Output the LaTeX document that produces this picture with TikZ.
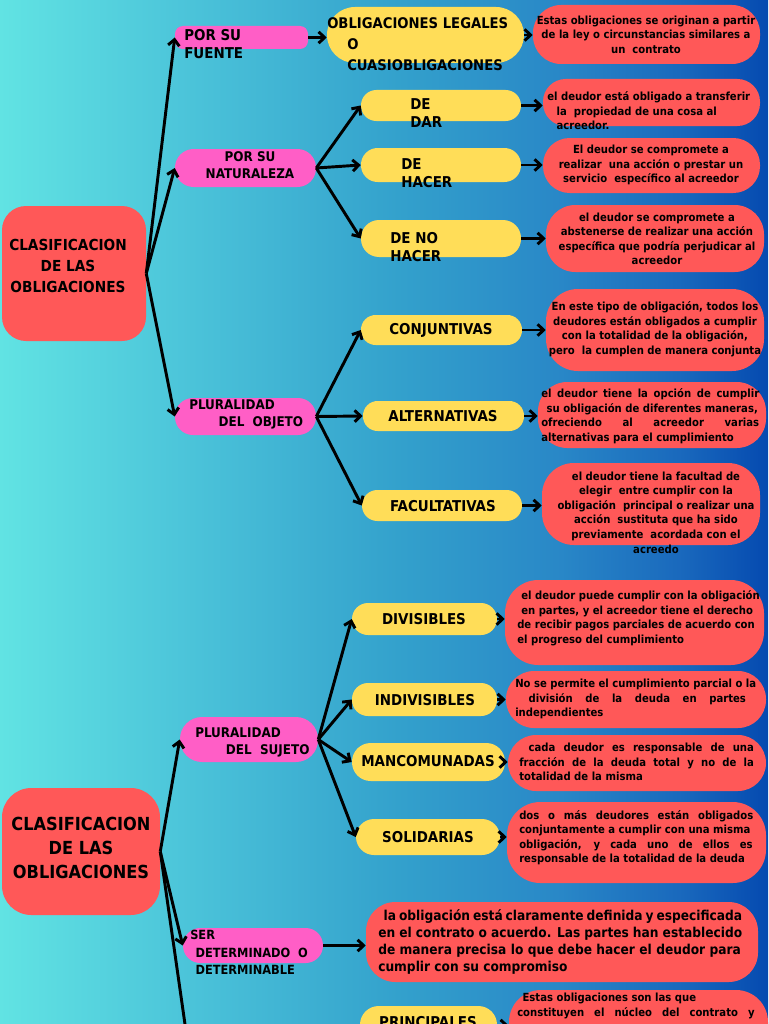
\documentclass[tikz,border=0pt]{standalone}
\usepackage{fontspec}
\setmainfont{DejaVu Sans Condensed}
\usetikzlibrary{arrows.meta,fit,calc}
\definecolor{rojo}{RGB}{255,88,88}
\definecolor{rosa}{RGB}{255,94,198}
\definecolor{amarillo}{RGB}{255,221,88}
\pgfdeclarehorizontalshading{fondo}{100bp}{rgb(0bp)=(0.38,0.89,0.89); rgb(25bp)=(0.38,0.89,0.89); rgb(38bp)=(0.29,0.76,0.85); rgb(51bp)=(0.20,0.63,0.80); rgb(61.5bp)=(0.16,0.53,0.78); rgb(69.3bp)=(0.10,0.41,0.74); rgb(75bp)=(0.02,0.29,0.69); rgb(100bp)=(0.02,0.29,0.69)}

\begin{document}
\begin{tikzpicture}[x=0.75pt,y=-0.75pt,
  roja/.style={fill=rojo,inner sep=0pt,rounded corners=#1},
  rosada/.style={fill=rosa,inner sep=0pt,rounded corners=#1},
  amarilla/.style={fill=amarillo,inner sep=0pt,rounded corners=#1},
  flecha/.style={line width=2.2pt,-{Straight Barb[length=4.5pt,width=8.5pt]}},
  tnota/.style={inner sep=0pt,align=center,font=\bfseries\fontsize{8.4}{10.9}\selectfont},
  tetiq/.style={inner sep=0pt,align=left,font=\bfseries\fontsize{11.2}{13.5}\selectfont},
  trosa/.style={inner sep=0pt,align=left,font=\bfseries\fontsize{10}{12.75}\selectfont}]
\useasboundingbox (0,0) rectangle (768,1024);
\clip (0,0) rectangle (768,1024);
\fill[shading=fondo] (0,0) rectangle (768,1024);

% primer mapa
\node[roja=18pt,fit={(2,206) (146,341)}] (raiz1) {};
\node[inner sep=0pt,align=center,font=\bfseries\fontsize{11.4}{15.75}\selectfont] (raiz1t) at (68,266) {CLASIFICACION\\DE LAS\\OBLIGACIONES};

\node[rosada=6pt,fit={(175,26) (308,49)}] (fuente) {};
\node[tetiq,anchor=west,font=\bfseries\fontsize{11.2}{13.5}\selectfont] (fuentet) at (184,44) {POR SU\\FUENTE};
\node[amarilla=21pt,fit={(327,7) (524,63)}] (legales) {};
\node[tetiq,anchor=west,font=\bfseries\fontsize{11}{15.75}\selectfont] (legalest) at (327,44) {OBLIGACIONES LEGALES\\\hspace*{15pt}O\\\hspace*{15pt}CUASIOBLIGACIONES};
\node[roja=21pt,fit={(533,5) (760,64)}] (nota1) {};
\node[tnota] (nota1t) at (646,34.5) {Estas obligaciones se originan a partir\\de la ley o circunstancias similares a\\un\ \ contrato};

\node[rosada=14pt,fit={(175,149) (316,187)}] (natural) {};
\node[trosa,align=center] (naturalt) at (250,165.5) {POR SU\\NATURALEZA};

\node[amarilla=11.5pt,fit={(361,90) (521,121)}] (dar) {};
\node[tetiq,anchor=west] (dart) at (410,113) {DE\\DAR};
\node[roja=17pt,fit={(543,79) (760,126)}] (nota2) {};
\node[tnota,align=left,anchor=west] (nota2t) at (547,111) {el deudor está obligado a transferir\\\hspace*{7pt}la\ \ propiedad de una cosa al\\\hspace*{7pt}acreedor.};

\node[amarilla=12.5pt,fit={(361,148) (521,182)}] (hacer) {};
\node[tetiq,anchor=west] (hacert) at (401,173.5) {DE\\HACER};
\node[roja=20pt,fit={(543,138) (760,193)}] (nota3) {};
\node[tnota] (nota3t) at (651,165) {El deudor se compromete a\\realizar\ \ una acción o prestar un\\servicio\ \ específico al acreedor};

\node[amarilla=13.5pt,fit={(361,220) (521,257)}] (nohacer) {};
\node[tetiq,anchor=west] (nohacert) at (390,247) {DE NO\\HACER};
\node[roja=22pt,fit={(546,205) (764,272)}] (nota4) {};
\node[tnota] (nota4t) at (657,239) {el deudor se compromete a\\abstenerse de realizar una acción\\específica que podría perjudicar al\\acreedor};

\node[rosada=13.5pt,fit={(175,398) (316,435)}] (objeto) {};
\node[trosa,anchor=west] (objetot) at (189,414.5) {PLURALIDAD\\\hspace*{22pt}DEL\ \ OBJETO};

\node[amarilla=11pt,fit={(361,315) (522,345)}] (conj) {};
\node[tetiq] (conjt) at (441,330) {CONJUNTIVAS};
\node[roja=24pt,fit={(546,289) (764,371)}] (nota5) {};
\node[tnota] (nota5t) at (655,329) {En este tipo de obligación, todos los\\deudores están obligados a cumplir\\con la totalidad de la obligación,\\pero\ \ la cumplen de manera conjunta};

\node[amarilla=11pt,fit={(363,401) (524,431)}] (alter) {};
\node[tetiq] (altert) at (443,416) {ALTERNATIVAS};
\node[roja=22pt,fit={(538,382) (766,448)}] (nota6) {};
\node[tnota,align=left,anchor=west] (nota6t) at (541,416) {\makebox[163.5pt][s]{el deudor tiene la opción de cumplir}\\\hspace*{4pt}su obligación de diferentes maneras,\\\makebox[163.5pt][s]{ofreciendo al acreedor varias}\\alternativas para el cumplimiento};

\node[amarilla=11.5pt,fit={(362,490) (522,521)}] (facul) {};
\node[tetiq] (facult) at (443,506) {FACULTATIVAS};
\node[roja=24pt,fit={(542,463) (760,545)}] (nota7) {};
\node[tnota] (nota7t) at (656,512.5) {el deudor tiene la facultad de\\elegir\ \ entre cumplir con la\\obligación\ \ principal o realizar una\\acción\ \ sustituta que ha sido\\previamente\ \ acordada con el\\acreedo};

\draw[flecha] (raiz1.east) -- (fuente.west);
\draw[flecha] (raiz1.east) -- (natural.west);
\draw[flecha] (raiz1.east) -- (objeto.west);
\draw[flecha] (fuente.east) -- (fuente.east -| legales.west);
\draw[flecha] (legales.east) -- (legales.east -| nota1.west);
\draw[flecha] (natural.east) -- (dar.west);
\draw[flecha] (natural.east) -- (hacer.west);
\draw[flecha] (natural.east) -- (nohacer.west);
\draw[flecha] (dar.east) -- (dar.east -| nota2.west);
\draw[flecha] (hacer.east) -- (hacer.east -| nota3.west);
\draw[flecha] (nohacer.east) -- (nohacer.east -| nota4.west);
\draw[flecha] (objeto.east) -- (conj.west);
\draw[flecha] (objeto.east) -- (alter.west);
\draw[flecha] (objeto.east) -- (facul.west);
\draw[flecha] (conj.east) -- (conj.east -| nota5.west);
\draw[flecha] (alter.east) -- (alter.east -| nota6.west);
\draw[flecha] (facul.east) -- (facul.east -| nota7.west);

% segundo mapa
\node[roja=22pt,fit={(2,788) (160,915)}] (raiz2) {};
\node[inner sep=0pt,align=center,font=\bfseries\fontsize{13.5}{18}\selectfont] (raiz2t) at (81,848) {CLASIFICACION\\DE LAS\\OBLIGACIONES};

\node[rosada=16.5pt,fit={(180,717) (318,762)}] (sujeto) {};
\node[trosa,anchor=west] (sujetot) at (195,742) {PLURALIDAD\\\hspace*{23pt}DEL\ \ SUJETO};

\node[amarilla=12pt,fit={(352,603) (497,635)}] (divis) {};
\node[tetiq] (divist) at (424,619) {DIVISIBLES};
\node[roja=25pt,fit={(505,580) (764,665)}] (nota8) {};
\node[tnota,align=left,anchor=west] (nota8t) at (517,618) {\hspace*{3pt}el deudor puede cumplir con la obligación\\\hspace*{3pt}en partes, y el acreedor tiene el derecho\\de recibir pagos parciales de acuerdo con\\el progreso del cumplimiento};

\node[amarilla=12pt,fit={(352,683) (497,716)}] (indiv) {};
\node[tetiq] (indivt) at (425,700) {INDIVISIBLES};
\node[roja=21pt,fit={(506,671) (766,728)}] (nota9) {};
\node[tnota,align=left,anchor=west] (nota9t) at (515,699) {No se permite el cumplimiento parcial o la\\\hspace*{10pt}\makebox[163pt][s]{división de la deuda en partes}\\independientes};

\node[amarilla=14pt,fit={(352,743) (505,781)}] (manco) {};
\node[tetiq] (mancot) at (428,761) {MANCOMUNADAS};
\node[roja=21pt,fit={(508,735) (766,791)}] (nota10) {};
\node[tnota,align=left,anchor=west] (nota10t) at (519,762) {\hspace*{7pt}\makebox[169pt][s]{cada deudor es responsable de una}\\\makebox[176pt][s]{fracción de la deuda total y no de la}\\totalidad de la misma};

\node[amarilla=13.5pt,fit={(356,819) (500,855)}] (solid) {};
\node[tetiq] (solidt) at (428,837) {SOLIDARIAS};
\node[roja=25pt,fit={(507,802) (766,883)}] (nota11) {};
\node[tnota,align=left,anchor=west] (nota11t) at (519,837.5) {\makebox[175.5pt][s]{dos o más deudores están obligados}\\conjuntamente a cumplir con una misma\\\makebox[175pt][s]{obligación, y cada uno de ellos es}\\responsable de la totalidad de la deuda};

\node[rosada=13pt,fit={(183,928) (323,963)}] (deter) {};
\node[trosa,anchor=west,font=\bfseries\fontsize{9.5}{13}\selectfont] (detert) at (190,952.5) {SER\\\hspace*{4pt}DETERMINADO\ \ O\\\hspace*{4pt}DETERMINABLE};
\node[roja=22pt,fit={(366,902) (758,982)}] (nota12) {};
\node[inner sep=0pt,align=left,anchor=west,font=\bfseries\fontsize{10.2}{12.75}\selectfont] (nota12t) at (378,941.5) {\hspace*{4pt}\makebox[269pt][s]{la obligación está claramente definida y especificada}\\\makebox[273pt][s]{en el contrato o acuerdo. Las partes han establecido}\\\makebox[272pt][s]{de manera precisa lo que debe hacer el deudor para}\\cumplir con su compromiso};

\node[amarilla=14pt,fit={(360,1006) (497,1045)}] (princ) {};
\node[tetiq] (princt) at (428,1022) {PRINCIPALES};
\node[roja=24pt,fit={(509,990) (768,1070)}] (nota13) {};
\node[tnota,align=left,anchor=north west] (nota13t) at (517,993) {\hspace*{4pt}Estas obligaciones son las que\\\makebox[178pt][s]{constituyen el núcleo del contrato y}};

\coordinate (abajo) at (193,1080);
\draw[flecha] (raiz2.east) -- (sujeto.west);
\draw[flecha] (raiz2.east) -- (deter.west);
\draw[line width=2.2pt] (raiz2.east) -- (abajo);
\draw[flecha] (sujeto.east) -- (divis.west);
\draw[flecha] (sujeto.east) -- (indiv.west);
\draw[flecha] (sujeto.east) -- (manco.west);
\draw[flecha] (sujeto.east) -- (solid.west);
\draw[flecha] (divis.east) -- (divis.east -| nota8.west);
\draw[flecha] (indiv.east) -- (indiv.east -| nota9.west);
\draw[flecha] (manco.east) -- (manco.east -| nota10.west);
\draw[flecha] (solid.east) -- (solid.east -| nota11.west);
\draw[flecha] (deter.east) -- (deter.east -| nota12.west);
\draw[flecha] (princ.east) -- (princ.east -| nota13.west);
\end{tikzpicture}
\end{document}
